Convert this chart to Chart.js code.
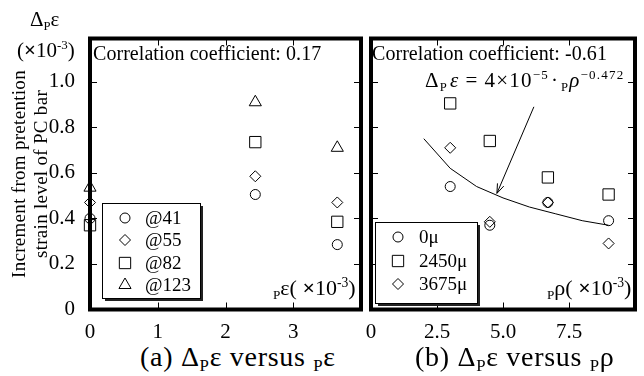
<!DOCTYPE html>
<html>
<head>
<meta charset="utf-8">
<script src="https://cdn.jsdelivr.net/npm/chart.js@4.4.1/dist/chart.umd.min.js"></script>
<style>
  body { margin:0; background:#fff; width:644px; height:376px; position:relative; overflow:hidden;
         font-family:"Liberation Serif","Times New Roman",serif; color:#000; }
  canvas { position:absolute; top:0; }
  #c1 { left:40px; }
  #c2 { left:362px; }
  .t { position:absolute; white-space:nowrap; line-height:1; }
  .sb { font-size:0.6em; position:relative; top:0.3em; }
  .sp { font-size:0.62em; position:relative; top:-0.6em; }
  .i { font-style:italic; }
  .rot { position:absolute; left:-80px; top:152px; width:220px; font-size:19px; line-height:22px;
         text-align:center; transform:rotate(-90deg); white-space:nowrap; letter-spacing:0.3px; }
</style>
</head>
<body>
<canvas id="c1" width="330" height="340"></canvas>
<canvas id="c2" width="282" height="340"></canvas>

<div class="t" style="left:30px;top:9px;font-size:21px">Δ<span class="sb">P</span>ε</div>
<div class="t" style="left:17px;top:40px;font-size:21px">(<b>×</b>10<span class="sp">-3</span>)</div>
<div class="rot">Increment from pretention<br>strain level of PC bar</div>

<div class="t" style="left:93px;top:43px;font-size:20px;letter-spacing:0.05px">Correlation coefficient: 0.17</div>
<div class="t" style="left:372px;top:43px;font-size:20px;letter-spacing:0.05px">Correlation coefficient: -0.61</div>
<div class="t" style="left:425px;top:70px;font-size:21px;letter-spacing:1.2px">Δ<span class="sb">P</span><span class="i" style="margin-left:2px">ε</span><span style="margin:0 6px">=</span>4×10<span class="sp">−5</span><span style="margin:0 2px">·</span><span class="sb">P</span><span class="i">ρ</span><span class="sp">−0.472</span></div>

<div class="t" style="left:273px;top:277px;font-size:22px"><span class="sb">P</span>ε( <b>×</b>10<span class="sp">-3</span>)</div>
<div class="t" style="left:547px;top:277px;font-size:22px"><span class="sb">P</span>ρ( <b>×</b>10<span class="sp">-3</span>)</div>

<div class="t" style="left:140px;top:343px;font-size:28px;letter-spacing:0.7px">(a) Δ<span class="sb">P</span>ε versus <span class="sb">P</span>ε</div>
<div class="t" style="left:415px;top:343px;font-size:28px;letter-spacing:0.7px">(b) Δ<span class="sb">P</span>ε versus <span class="sb">P</span>ρ</div>

<script>
'use strict';

// (a) increment vs pretention strain (x10^-3)
const epsX   = [0, 2.44, 3.65];
const at41   = [0.40, 0.505, 0.285];
const at55   = [0.47, 0.585, 0.47];
const at82   = [0.37, 0.735, 0.385];
const at123  = [0.535, 0.91, 0.71];

// (b) increment vs reinforcement ratio (x10^-3)
const rhoX   = [3.0, 4.5, 6.7, 9.0];
const mu0    = [0.54, 0.37, 0.47, 0.39];
const mu2450 = [0.905, 0.74, 0.58, 0.505];
const mu3675 = [0.71, 0.385, 0.47, 0.29];

// fitted curve
const fitX   = [2, 3, 4, 5, 6, 7, 8, 9];
const fitY   = [0.75, 0.62, 0.54, 0.49, 0.45, 0.42, 0.39, 0.37];
const arrowFrom = [6.17, 0.89];
const arrowTo   = [4.77, 0.51];

const yTicks  = [0, 0.2, 0.4, 0.6, 0.8, 1.0];
const xTicksA = [0, 1, 2, 3];
const xTicksB = [0, 2.5, 5, 7.5];
const Y_MAX = 1.19;

Chart.defaults.font.family = '"Liberation Serif", "Times New Roman", serif';
Chart.defaults.color = '#000';

const pts = (xs, ys) => xs.map((x, i) => ({ x, y: ys[i] }));

function series(label, xs, ys, style, r) {
  return {
    label, data: pts(xs, ys), pointStyle: style, pointRadius: r, pointHoverRadius: r,
    pointBorderWidth: 1, borderColor: '#000', backgroundColor: 'rgba(0,0,0,0)',
    showLine: false, clip: false
  };
}

// frame + inward ticks on all four sides
const framePlugin = {
  id: 'frame',
  afterDatasetsDraw(chart, args, o) {
    const { ctx, chartArea: a, scales: { x, y } } = chart;
    ctx.save();
    ctx.strokeStyle = '#000';
    ctx.lineWidth = 1;
    ctx.beginPath();
    o.xMarks.forEach(v => {
      const px = Math.round(x.getPixelForValue(v)) + 0.5;
      ctx.moveTo(px, a.bottom); ctx.lineTo(px, a.bottom - 7);
      ctx.moveTo(px, a.top);    ctx.lineTo(px, a.top + 7);
    });
    o.yMarks.forEach(v => {
      const py = Math.round(y.getPixelForValue(v)) + 0.5;
      ctx.moveTo(a.left, py);  ctx.lineTo(a.left + 7, py);
      ctx.moveTo(a.right, py); ctx.lineTo(a.right - 7, py);
    });
    ctx.stroke();
    ctx.lineWidth = 4;
    ctx.strokeRect(a.left, a.top, a.right - a.left, a.bottom - a.top);

    if (o.arrow) {
      const x0 = x.getPixelForValue(o.arrow[0][0]), y0 = y.getPixelForValue(o.arrow[0][1]);
      const x1 = x.getPixelForValue(o.arrow[1][0]), y1 = y.getPixelForValue(o.arrow[1][1]);
      const ang = Math.atan2(y1 - y0, x1 - x0);
      ctx.lineWidth = 1;
      ctx.beginPath();
      ctx.moveTo(x0, y0); ctx.lineTo(x1, y1);
      [-0.35, 0.35].forEach(d => {
        ctx.moveTo(x1, y1);
        ctx.lineTo(x1 - 10 * Math.cos(ang + d), y1 - 10 * Math.sin(ang + d));
      });
      ctx.stroke();
    }
    ctx.restore();
  }
};

// boxed legend with drop shadow
const boxLegend = {
  id: 'boxLegend',
  afterDraw(chart, args, o) {
    const ctx = chart.ctx;
    const [bx, by, bw, bh] = o.box;
    ctx.save();
    ctx.fillStyle = '#222';
    ctx.fillRect(bx + 3, by + 3, bw, bh);
    ctx.fillStyle = '#fff';
    ctx.fillRect(bx, by, bw, bh);
    ctx.strokeStyle = '#000';
    ctx.lineWidth = 1;
    ctx.strokeRect(bx + 0.5, by + 0.5, bw, bh);
    ctx.font = '19px "Liberation Serif", serif';
    ctx.textBaseline = 'middle';
    chart.data.datasets.forEach((ds, i) => {
      if (ds.pointRadius === 0) return;
      const yy = o.rows[i];
      ctx.fillStyle = 'rgba(0,0,0,0)';
      ctx.strokeStyle = '#000';
      Chart.helpers.drawPoint(ctx, { pointStyle: ds.pointStyle, radius: ds.pointRadius, rotation: 0, borderWidth: 1 }, bx + o.markX, yy);
      ctx.fillStyle = '#000';
      ctx.fillText(ds.label, bx + o.textX, yy + 1);
    });
    ctx.restore();
  }
};

const fmtInt = v => String(v);
const fmtDec = v => v === 0 ? '0' : v.toFixed(1);

function baseOptions(xMax, xTicks, xFmt, showY, pad) {
  return {
    responsive: false, animation: false, devicePixelRatio: 1,
    layout: { padding: pad },
    plugins: { legend: { display: false }, tooltip: { enabled: false } },
    scales: {
      x: {
        type: 'linear', min: 0, max: xMax,
        grid: { display: false }, border: { display: false },
        afterBuildTicks: s => { s.ticks = xTicks.map(v => ({ value: v })); },
        afterFit: s => { s.height = 30.5; },
        ticks: { font: { size: 21 }, padding: 2, callback: xFmt, maxRotation: 0 }
      },
      y: {
        type: 'linear', min: 0, max: Y_MAX, display: showY,
        grid: { display: false }, border: { display: false },
        afterBuildTicks: s => { s.ticks = yTicks.map(v => ({ value: v })); },
        afterFit: s => { if (showY) s.width = 50; },
        ticks: { font: { size: 21 }, padding: 7, callback: fmtDec }
      }
    }
  };
}

const optA = baseOptions(4, xTicksA, fmtInt, true, { left: 0, right: 6.5, top: 38.5, bottom: 0 });
optA.plugins.frame = { xMarks: [1, 2, 3], yMarks: [0.2, 0.4, 0.6, 0.8, 1.0] };
optA.plugins.boxLegend = { box: [62, 203, 98, 95], rows: [218, 240, 263, 285], markX: 23, textX: 43 };

new Chart(document.getElementById('c1'), {
  type: 'scatter',
  data: {
    datasets: [
      series('@41',  epsX, at41,  'circle',  5),
      series('@55',  epsX, at55,  'rectRot', 5.5),
      series('@82',  epsX, at82,  'rect',    8),
      series('@123', epsX, at123, 'triangle', 7)
    ]
  },
  options: optA,
  plugins: [framePlugin, boxLegend]
});

const optB = baseOptions(10, xTicksB, fmtDec, false, { left: 6.5, right: 4, top: 38.5, bottom: 0 });
optB.plugins.frame = { xMarks: [2.5, 5, 7.5], yMarks: [0.2, 0.4, 0.6, 0.8, 1.0], arrow: [arrowFrom, arrowTo] };
optB.plugins.boxLegend = { box: [13, 222, 102, 81], rows: [237, 261, 284], markX: 23, textX: 44 };

new Chart(document.getElementById('c2'), {
  type: 'scatter',
  data: {
    datasets: [
      series('0μ',    rhoX, mu0,    'circle',  5),
      series('2450μ', rhoX, mu2450, 'rect',    8),
      series('3675μ', rhoX, mu3675, 'rectRot', 5.5),
      {
        label: 'fit', data: pts(fitX, fitY), showLine: true, pointRadius: 0,
        borderColor: '#000', borderWidth: 1, tension: 0, clip: false
      }
    ]
  },
  options: optB,
  plugins: [framePlugin, boxLegend]
});
</script>
</body>
</html>
